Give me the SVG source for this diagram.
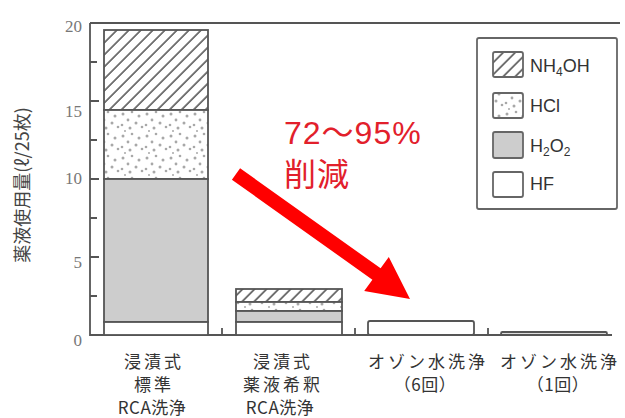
<svg xmlns="http://www.w3.org/2000/svg" width="625" height="418" viewBox="0 0 625 418">
<defs>
<pattern id="hatch" patternUnits="userSpaceOnUse" width="8.5" height="8.5" patternTransform="rotate(45)">
<rect width="8.5" height="8.5" fill="#fff"/>
<line x1="2" y1="0" x2="2" y2="8.5" stroke="#555" stroke-width="1.6"/>
</pattern>
<pattern id="dots" patternUnits="userSpaceOnUse" width="24" height="22">
<rect width="24" height="22" fill="#fff"/>
<g fill="#a8a8a8">
<circle cx="3" cy="4" r="1.5"/><circle cx="12" cy="2" r="1.3"/><circle cx="19" cy="6" r="1.5"/>
<circle cx="8" cy="10" r="1.4"/><circle cx="16" cy="13" r="1.5"/><circle cx="2" cy="15" r="1.3"/>
<circle cx="22" cy="17" r="1.3"/><circle cx="10" cy="18" r="1.5"/><circle cx="5" cy="21" r="1"/>
</g>
</pattern>
<style>
.bar{stroke:#555;stroke-width:1.8}
.ax{stroke:#555;stroke-width:1.8;fill:none}
.tk{font-family:"Liberation Serif",serif;font-size:17px;fill:#777;text-anchor:end}
.cat{font-family:"Noto Sans CJK JP",sans-serif;font-size:17px;fill:#333;text-anchor:middle;letter-spacing:3px}
.rca{letter-spacing:0.5px}
.lg{font-family:"Liberation Sans",Arial,sans-serif;font-size:18px;fill:#333}
.sw{stroke:#666;stroke-width:1.8}
.red{font-family:"Liberation Sans","Noto Sans CJK JP",sans-serif;font-size:32px;fill:#e2202b;letter-spacing:1px}
</style>
</defs>
<rect width="625" height="418" fill="#fff"/>

<g id="axes">
<path class="ax" d="M90,23 H620 M90,23 V335 H612"/>
<path class="ax" d="M90,62 H97 M90,101 H99 M90,140 H97 M90,179 H99 M90,218 H97 M90,257 H99 M90,296 H97 M222,335 V328 M355,335 V328 M488,335 V328"/>
<text class="tk" x="82" y="32">20</text>
<text class="tk" x="82" y="117">15</text>
<text class="tk" x="82" y="184">10</text>
<text class="tk" x="82" y="268">5</text>
<text class="tk" x="82" y="346">0</text>
<text transform="translate(29,185) rotate(-90)" font-family="Noto Sans CJK JP,sans-serif" font-size="18" fill="#444" text-anchor="middle">薬液使用量(ℓ/25枚)</text>
</g>

<g id="bar1">
<rect class="bar" x="104" y="30" width="104" height="80" fill="url(#hatch)"/>
<rect class="bar" x="104" y="110" width="104" height="69" fill="url(#dots)"/>
<rect class="bar" x="104" y="179" width="104" height="143" fill="#cdcdcd"/>
<rect class="bar" x="104" y="322" width="104" height="13" fill="#fff"/>
</g>
<g id="bar2">
<rect class="bar" x="236" y="289" width="106" height="13" fill="url(#hatch)"/>
<rect class="bar" x="236" y="302" width="106" height="9" fill="url(#dots)"/>
<rect class="bar" x="236" y="311" width="106" height="11" fill="#cdcdcd"/>
<rect class="bar" x="236" y="322" width="106" height="13" fill="#fff"/>
</g>
<g id="bar3">
<rect class="bar" x="368" y="321" width="106" height="14" fill="#fff" rx="2"/>
</g>
<g id="bar4">
<rect class="bar" x="501" y="332" width="106" height="3" fill="#ddd" rx="1.5"/>
</g>

<g id="legend">
<rect x="477" y="38" width="140" height="171" fill="#fff" stroke="#666" stroke-width="1.8" rx="2"/>
<rect class="sw" x="493" y="52" width="30" height="25" fill="url(#hatch)" rx="2"/>
<rect class="sw" x="493" y="93" width="30" height="25" fill="url(#dots)" rx="2"/>
<rect class="sw" x="493" y="132" width="30" height="26" fill="#cdcdcd" rx="2"/>
<rect class="sw" x="493" y="172" width="30" height="25" fill="#fff" rx="2"/>
<text class="lg" x="530" y="72">NH<tspan font-size="12" dy="4">4</tspan><tspan dy="-4">OH</tspan></text>
<text class="lg" x="530" y="112">HCl</text>
<text class="lg" x="530" y="152">H<tspan font-size="12" dy="4">2</tspan><tspan dy="-4">O</tspan><tspan font-size="12" dy="4">2</tspan></text>
<text class="lg" x="530" y="190">HF</text>
</g>

<g id="connectors">
<polygon fill="#ff0000" points="240.1,168.3 380.6,268.3 388.8,256.9 410,299 364.2,291.1 372.4,279.7 231.9,179.7"/>
</g>

<g id="annotation">
<text class="red" x="284" y="144">72～95%</text>
<text class="red" x="284" y="186" font-family="Noto Sans CJK JP,sans-serif" font-size="28" letter-spacing="2">削減</text>
</g>

<g id="labels">
<text class="cat" x="154" y="368">浸漬式</text>
<text class="cat" x="154" y="391">標準</text>
<text class="cat rca" x="152" y="414">RCA洗浄</text>
<text class="cat" x="283" y="368">浸漬式</text>
<text class="cat" x="283" y="391">薬液希釈</text>
<text class="cat rca" x="280" y="414">RCA洗浄</text>
<text class="cat" x="428" y="368">オゾン水洗浄</text>
<text class="cat rca" x="425" y="391">（6回）</text>
<text class="cat" x="560" y="368">オゾン水洗浄</text>
<text class="cat rca" x="558" y="391">（1回）</text>
</g>
</svg>
